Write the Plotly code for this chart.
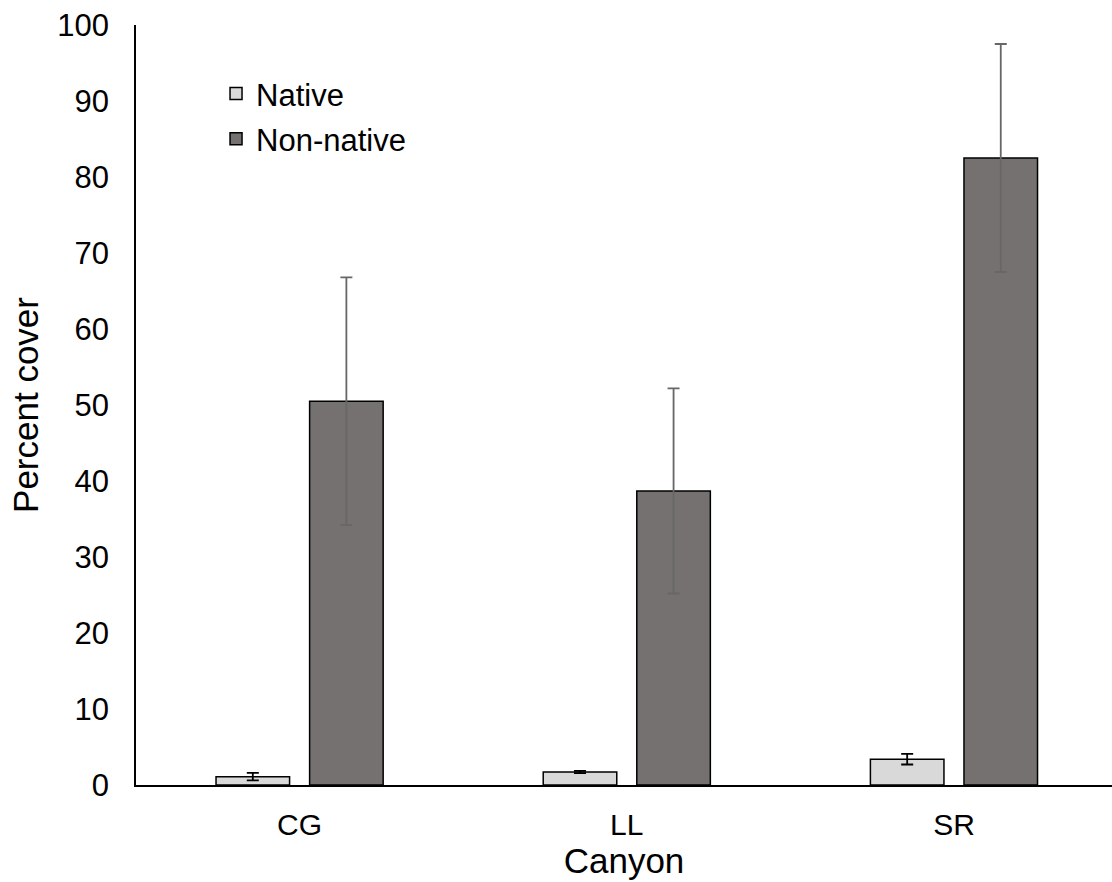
import plotly.graph_objects as go

categories = ["CG", "LL", "SR"]
native = [1.1, 1.7, 3.4]
native_err = [0.5, 0.15, 0.7]
nonnative = [50.5, 38.7, 82.5]
nonnative_err = [16.3, 13.5, 15.0]
y_ticks = list(range(0, 101, 10))

FONT = "Liberation Sans, Arial, sans-serif"

fig = go.Figure()
fig.add_trace(go.Bar(
    x=categories, y=native, name="Native", legendgroup="a",
    marker=dict(color="#D9D9D9", line=dict(color="black", width=1.5)),
    error_y=dict(type="data", array=native_err, visible=True,
                 color="black", thickness=1.8, width=6),
))
fig.add_trace(go.Bar(
    x=categories, y=nonnative, name="Non-native", legendgroup="b",
    marker=dict(color="#767171", line=dict(color="black", width=1.5)),
    error_y=dict(type="data", array=nonnative_err, visible=True,
                 color="#676767", thickness=1.8, width=6),
))

fig.update_layout(
    width=1112, height=882,
    margin=dict(l=136, r=0, t=25, b=97),
    paper_bgcolor="white", plot_bgcolor="white",
    font=dict(family=FONT, size=30, color="black"),
    barmode="group", bargap=0.428, bargroupgap=0.214,
    showlegend=True,
    legend=dict(x=0.082, y=0.945, xanchor="left", yanchor="top",
                bgcolor="rgba(0,0,0,0)", font=dict(size=31),
                traceorder="grouped", tracegroupgap=2),
    xaxis=dict(
        range=[-0.5, 2.483], showline=True, linecolor="black", linewidth=1.5,
        ticks="", showgrid=False, zeroline=False, ticklabelstandoff=12,
        tickfont=dict(size=30),
        title=dict(text="Canyon", font=dict(size=35), standoff=4),
    ),
    yaxis=dict(
        range=[0, 100], tickvals=y_ticks, showline=True, linecolor="black",
        linewidth=1.5, ticks="", showgrid=False, zeroline=False,
        ticklabelstandoff=19, tickfont=dict(size=31),
        title=dict(text="Percent cover", font=dict(size=35), standoff=8),
    ),
)

fig.write_html("out.html")
